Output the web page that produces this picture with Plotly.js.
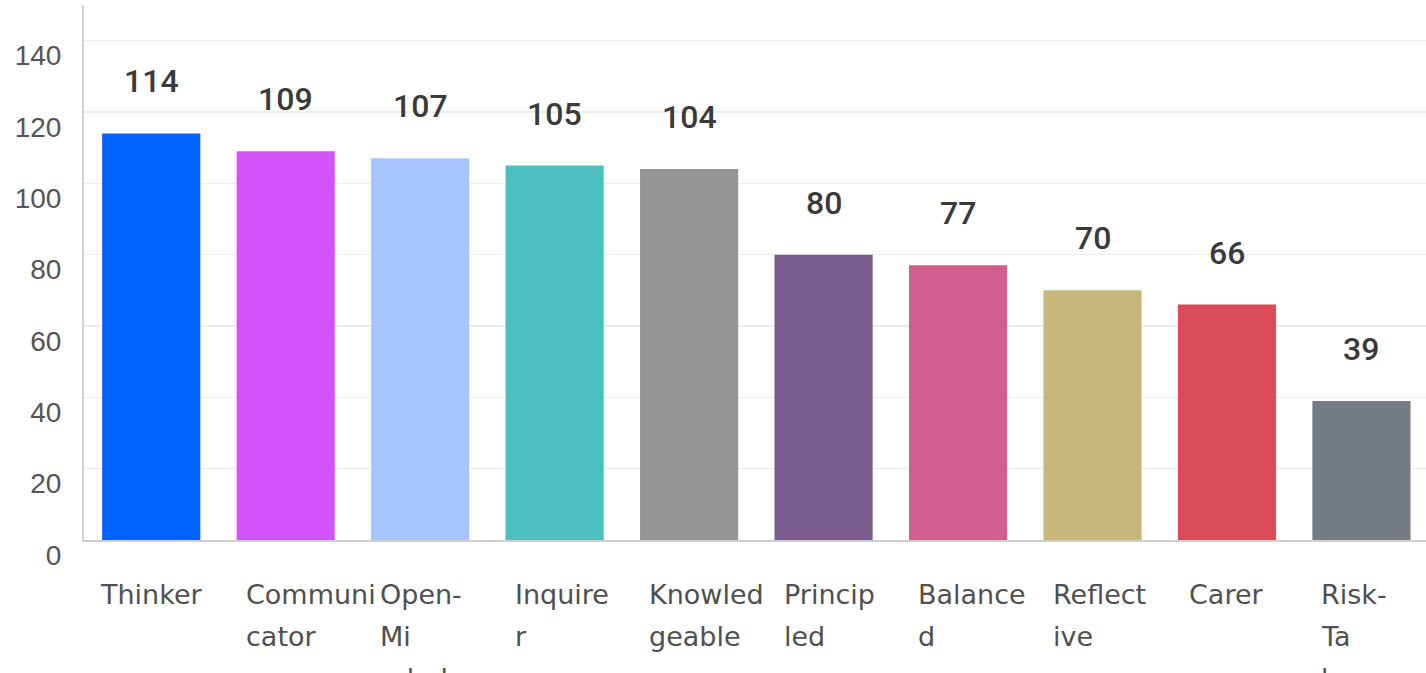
<!DOCTYPE html>
<html><head><meta charset="utf-8">
<script src="https://cdn.plot.ly/plotly-3.0.1.min.js"></script>
<style>html,body{margin:0;padding:0;background:#fff;overflow:hidden}#chart{width:1426px;height:673px}</style>
</head><body><div id="chart"></div>
<script>
const categories = ["Thinker","Communicator","Open-Minded","Inquirer","Knowledgeable","Principled","Balanced","Reflective","Carer","Risk-Taker"];
const categoryLabels = ["Thinker","Communi<br>cator","Open-<br>Mi<br>nded","Inquire<br>r","Knowled<br>geable","Princip<br>led","Balance<br>d","Reflect<br>ive","Carer","Risk-<br>Ta<br>ker"];
const responses = [114,109,107,105,104,80,77,70,66,39];
const barColors = ["#0062FF","#D154FB","#A7C5FA","#4DBEC0","#969696","#7A5C8F","#D35E8E","#C7B77B","#DB4B5A","#757B82"];
const yTickValues = [0,20,40,60,80,100,120,140];

const annotations = [];
responses.forEach((v, i) => {
  annotations.push({
    x: categories[i], y: v, xref: 'x', yref: 'y',
    text: String(v), showarrow: false, yanchor: 'middle', xanchor: 'center',
    yshift: 52,
    font: {family: 'Roboto, Liberation Sans, Arial, sans-serif', size: 32, color: '#3a3a3a', weight: 500}
  });
});
categoryLabels.forEach((lbl, i) => {
  const lines = lbl.split('<br>');
  const single = lines.length === 1;
  lines.forEach((line, k) => {
    annotations.push({
      x: categories[i], y: 0, xref: 'x', yref: 'y',
      text: line, showarrow: false,
      xanchor: single ? 'center' : 'left', yanchor: 'middle',
      xshift: single ? 0 : -42, yshift: -54 - 42 * k,
      font: {family: 'DejaVu Sans, sans-serif', size: 27, color: '#505050'}
    });
  });
});

const trace = {
  type: 'bar', x: categories, y: responses,
  marker: {color: barColors, line: {width: 0}},
  hoverinfo: 'none', cliponaxis: false
};

const layout = {
  width: 1426, height: 673,
  margin: {l: 84, r: 0, t: 5, b: 133, pad: 0},
  paper_bgcolor: '#ffffff', plot_bgcolor: '#ffffff',
  bargap: 0.27,
  showlegend: false,
  xaxis: {
    type: 'category', range: [-0.5, 9.48],
    showticklabels: false, ticks: '', showgrid: false, zeroline: false,
    showline: true, linecolor: '#cfcfcf', linewidth: 2, fixedrange: true
  },
  yaxis: {
    range: [0, 150], tickvals: yTickValues, ticktext: yTickValues.map(String),
    ticks: '', showgrid: true, gridcolor: '#ececec', gridwidth: 1.5,
    zeroline: false, showline: true, linecolor: '#d2d2d2', linewidth: 2,
    ticklabelshift: 15, ticklabelstandoff: 15,
    tickfont: {family: 'Liberation Sans, Arial, sans-serif', size: 28, color: '#555555'},
    fixedrange: true
  },
  annotations: annotations,
  hovermode: false
};

Plotly.newPlot('chart', [trace], layout, {displayModeBar: false, staticPlot: true});
</script>
</body></html>
